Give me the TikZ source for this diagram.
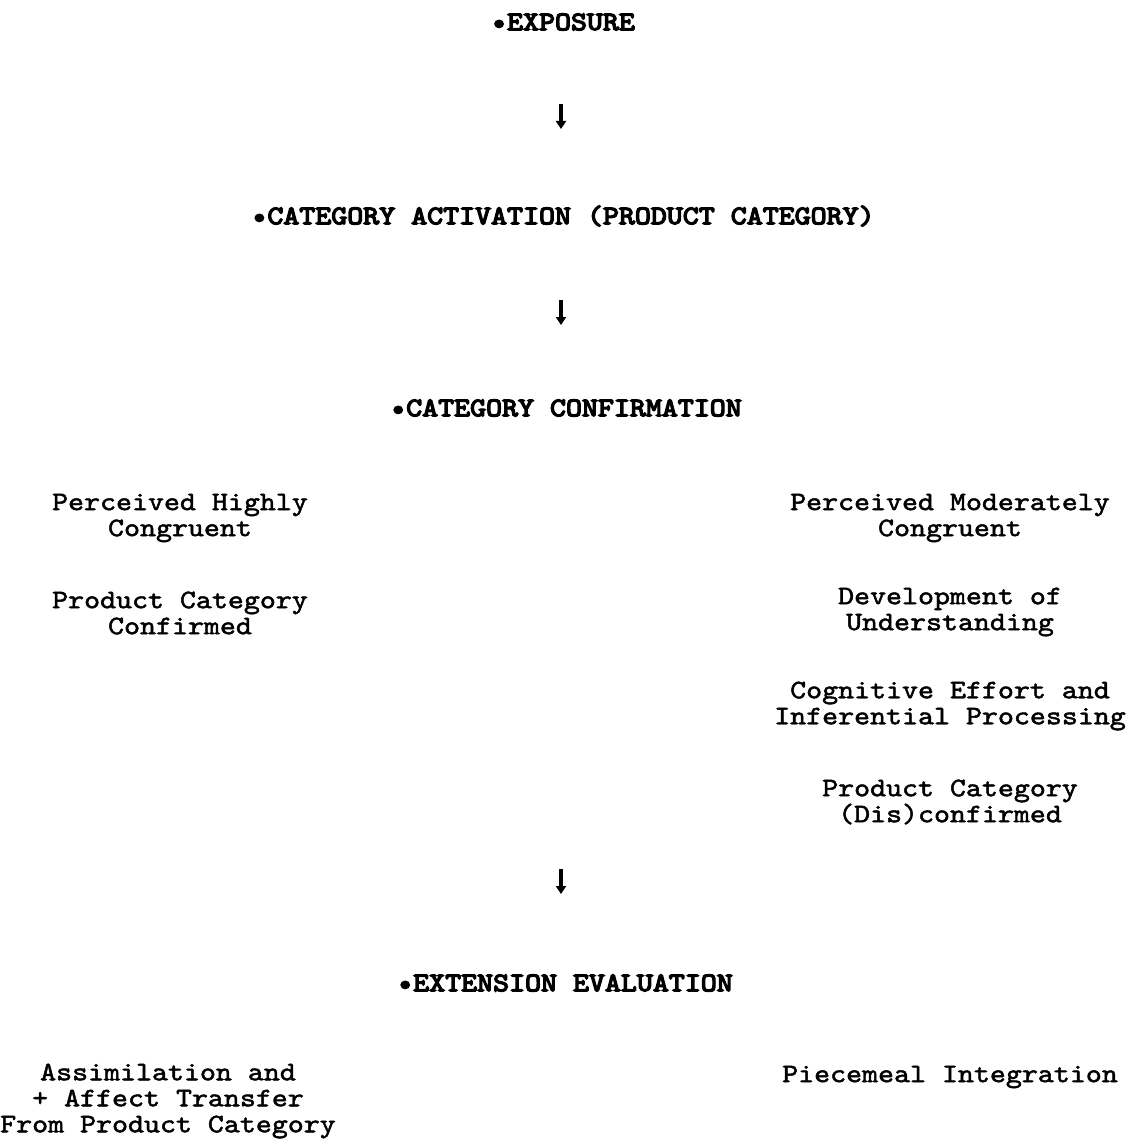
\documentclass[tikz,border=0pt]{standalone}
\usepackage{fontspec}
\setmainfont{lmmono10-regular.otf}[FakeStretch=1.14, FakeBold=1.8]
\newfontfamily\headfont{lmmono10-regular.otf}[FakeStretch=1.14, FakeBold=5]
\usetikzlibrary{arrows.meta}
\tikzset{
  head/.style={font=\headfont\fontsize{26.7}{26}\selectfont, inner sep=0pt, anchor=center},
  body/.style={font=\fontsize{26.7}{26}\selectfont, inner sep=0pt, align=center, anchor=center},
  flow/.style={line width=3.6pt, -{Triangle[width=10pt,length=8pt]}}
}
\begin{document}
\begin{tikzpicture}[x=1pt,y=-1pt]
\useasboundingbox (0,0) rectangle (1128,1145);
\node[head] (exp) at (563,22) {•EXPOSURE};
\node[head] (act) at (563,216) {•CATEGORY ACTIVATION (PRODUCT CATEGORY)};
\node[head] (conf) at (566,408) {•CATEGORY CONFIRMATION};
\node[head] (eval) at (565,983) {•EXTENSION EVALUATION};

\node[body] (hc) at (180,518) {Perceived Highly\\Congruent};
\node[body] (pcc) at (180,613) {Product Category\\Confirmed};
\node[body] (mc) at (950,518) {Perceived Moderately\\Congruent};
\node[body] (dev) at (950,612) {Development of\\Understanding};
\node[body] (cog) at (950,706) {Cognitive Effort and\\Inferential Processing};
\node[body] (pcd) at (950,802) {Product Category\\(Dis)confirmed};
\node[body] (ass) at (168,1101) {Assimilation and\\+ Affect Transfer\\From Product Category};
\node[body] (pie) at (950,1077) {Piecemeal Integration};

\coordinate (a1s) at (561,104);
\coordinate (a1e) at (561,129);
\coordinate (a2s) at (561,300);
\coordinate (a2e) at (561,325);
\coordinate (a3s) at (561,869);
\coordinate (a3e) at (561,894);
\draw[flow] (a1s) -- (a1e);
\draw[flow] (a2s) -- (a2e);
\draw[flow] (a3s) -- (a3e);
\end{tikzpicture}
\end{document}
